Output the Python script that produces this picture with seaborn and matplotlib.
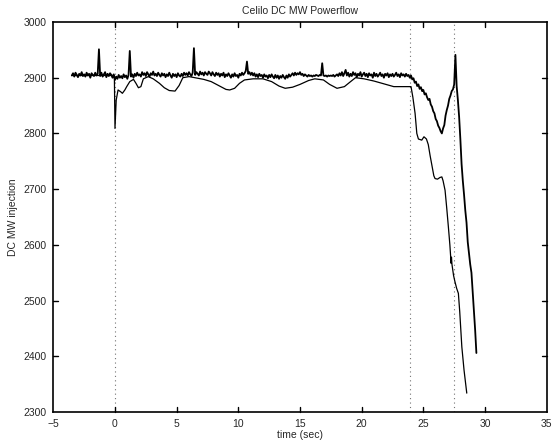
import numpy as np
import pandas as pd
import seaborn as sns
import matplotlib
matplotlib.use("Agg")
import matplotlib.pyplot as plt
from matplotlib.transforms import blended_transform_factory

# measured DC MW, sampled every 0.1 s starting at t = -3.5 s
t_start = -3.5
dt = 0.1
measured_mw = [
    2904, 2908, 2902, 2909, 2905, 2901, 2907, 2904, 2910, 2903,
    2906, 2902, 2909, 2904, 2907, 2900, 2908, 2905, 2903, 2909,
    2904, 2907, 2951, 2903, 2909, 2902, 2906, 2910, 2901, 2907,
    2903, 2908, 2905, 2900, 2906, 2896, 2902, 2898, 2905, 2900,
    2903, 2899, 2906, 2901, 2904, 2898, 2905, 2948, 2902, 2906,
    2900, 2907, 2903, 2909, 2904, 2906, 2902, 2910, 2905, 2908,
    2903, 2910, 2906, 2902, 2908, 2905, 2911, 2904, 2907, 2903,
    2909, 2905, 2902, 2908, 2904, 2907, 2901, 2906, 2903, 2909,
    2904, 2900, 2907, 2903, 2906, 2901, 2908, 2904, 2902, 2907,
    2903, 2909, 2905, 2908, 2904, 2910, 2906, 2903, 2909, 2953,
    2905, 2910, 2907, 2904, 2911, 2906, 2909, 2904, 2910, 2907,
    2905, 2911, 2908, 2904, 2910, 2906, 2903, 2909, 2905, 2908,
    2902, 2907, 2904, 2909, 2901, 2906, 2903, 2908, 2904, 2900,
    2906, 2902, 2908, 2903, 2905, 2900, 2907, 2904, 2909, 2905,
    2908, 2912, 2929, 2907, 2910, 2905, 2909, 2904, 2908, 2902,
    2906, 2901, 2907, 2903, 2905, 2900, 2906, 2902, 2904, 2899,
    2905, 2901, 2906, 2902, 2899, 2905, 2900, 2904, 2898, 2903,
    2900, 2905, 2901, 2898, 2904, 2900, 2906, 2902, 2905, 2908,
    2904, 2909, 2905, 2908, 2906, 2910, 2905, 2907, 2903, 2906,
    2904, 2902, 2905, 2903, 2904, 2902, 2904, 2903, 2905, 2904,
    2903, 2905, 2904, 2926, 2904, 2903, 2904, 2902, 2904, 2903,
    2904, 2903, 2905, 2902, 2904, 2906, 2903, 2908, 2904, 2910,
    2903, 2908, 2914, 2904, 2909, 2902, 2907, 2903, 2910, 2905,
    2908, 2901, 2907, 2904, 2910, 2902, 2906, 2909, 2903, 2907,
    2901, 2908, 2904, 2906, 2900, 2909, 2903, 2907, 2902, 2905,
    2909, 2903, 2906, 2900, 2907, 2904, 2908, 2901, 2906, 2903,
    2907, 2902, 2905, 2909, 2903, 2906, 2901, 2908, 2904, 2906,
    2902, 2907, 2903, 2905, 2900, 2904, 2897, 2899, 2891, 2893,
    2885, 2888, 2880, 2883, 2876, 2878, 2870, 2872, 2865, 2860,
    2862, 2852, 2848, 2840, 2836, 2826, 2822, 2814, 2810, 2804,
    2800, 2809, 2815, 2832, 2842, 2850, 2862, 2868, 2876, 2879,
    2888, 2941, 2885, 2860, 2830, 2790, 2745, 2715, 2690, 2662,
    2640, 2605, 2585, 2565, 2550, 2515, 2480, 2447, 2406,
]

# simulated DC MW
sim_time = [
    -3.5, -0.05, 0.0, 0.1, 0.25, 0.45, 0.6, 0.8, 0.95, 1.2, 1.5, 1.7, 1.9,
    2.1, 2.3, 2.7, 3.1, 3.6, 4.0, 4.4, 4.87, 5.2, 5.5, 6.0, 7.2, 7.8, 8.4,
    9.0, 9.3, 9.7, 10.1, 10.5, 11.2, 12.0, 12.7, 13.3, 13.8, 14.4, 15.0,
    15.7, 16.2, 16.9, 17.4, 18.0, 18.6, 19.1, 19.5, 20.2, 21.0, 21.8, 22.6,
    23.5, 24.0, 24.15, 24.33, 24.47, 24.6, 24.87, 25.05, 25.25, 25.4, 25.55,
    25.7, 25.85, 25.95, 26.15, 26.35, 26.5, 26.6, 26.76, 26.9, 27.03, 27.15,
    27.25, 27.28, 27.32, 27.45, 27.55, 27.7, 27.84, 27.95, 28.12, 28.3, 28.52,
]
sim_mw = [
    2904, 2904, 2809, 2860, 2878, 2875, 2872, 2878, 2884, 2893, 2897, 2890, 2882,
    2884, 2898, 2902, 2898, 2890, 2882, 2877, 2876, 2886, 2900, 2902, 2897, 2893, 2886,
    2879, 2878, 2881, 2890, 2896, 2898, 2898, 2893, 2885, 2881, 2883, 2888,
    2895, 2898, 2896, 2888, 2881, 2884, 2893, 2900, 2898, 2894, 2889, 2884,
    2884, 2884, 2865, 2836, 2800, 2790, 2788, 2794, 2790, 2780, 2760,
    2742, 2724, 2719, 2718, 2721, 2722, 2715, 2698, 2665, 2632, 2600,
    2567, 2578, 2565, 2545, 2535, 2522, 2513, 2480, 2417, 2375, 2334,
]

event_times = [0.0, 23.9, 27.5]
xticks = list(range(-5, 36, 5))
yticks = list(range(2300, 3001, 100))

measured = pd.DataFrame({
    "t": t_start + dt * np.arange(len(measured_mw)),
    "mw": measured_mw,
})
simulated = pd.DataFrame({"t": sim_time, "mw": sim_mw})

sns.set_style("ticks")
plt.rcParams.update({
    "font.family": ["Liberation Sans", "DejaVu Sans"],
    "axes.edgecolor": "black", "axes.linewidth": 1.2,
})

fig = plt.figure(figsize=(5.57, 4.45), dpi=100)
ax = fig.add_axes([0.0957, 0.074, 0.8858, 0.8766])

for tv in event_times:
    ax.axvline(tv, color="0.45", linestyle=(0, (1, 3)), lw=0.8, zorder=1)

sns.lineplot(data=simulated, x="t", y="mw", ax=ax, color="black", lw=0.9,
             estimator=None, sort=False, zorder=2)
sns.lineplot(data=measured, x="t", y="mw", ax=ax, color="black", lw=1.3,
             estimator=None, sort=False, zorder=3)

ax.set_xlim(-5, 35)
ax.set_ylim(2300, 3000)
ax.set_xticks(xticks)
ax.set_xticklabels([str(v).replace("-", "\u2212") for v in xticks])
ax.set_yticks(yticks)
ax.tick_params(direction="in", length=0, labelsize=7.5, pad=5)

# inward tick marks on all four sides (about 5 px long)
tx = blended_transform_factory(ax.transData, ax.transAxes)
ty = blended_transform_factory(ax.transAxes, ax.transData)
tick_kw = dict(color="black", lw=1.0, clip_on=False, zorder=4)
for xv in xticks[1:-1]:
    ax.plot([xv, xv], [0, 0.013], transform=tx, **tick_kw)
    ax.plot([xv, xv], [1, 0.987], transform=tx, **tick_kw)
for yv in yticks[1:-1]:
    ax.plot([0, 0.010], [yv, yv], transform=ty, **tick_kw)
    ax.plot([1, 0.990], [yv, yv], transform=ty, **tick_kw)

ax.set_title("Celilo DC MW Powerflow", fontsize=7.5, pad=6)
ax.set_xlabel("time (sec)", fontsize=7.5, labelpad=1)
ax.set_ylabel("DC MW injection", fontsize=7.5, labelpad=4)

fig.savefig("out.png", dpi=100)
